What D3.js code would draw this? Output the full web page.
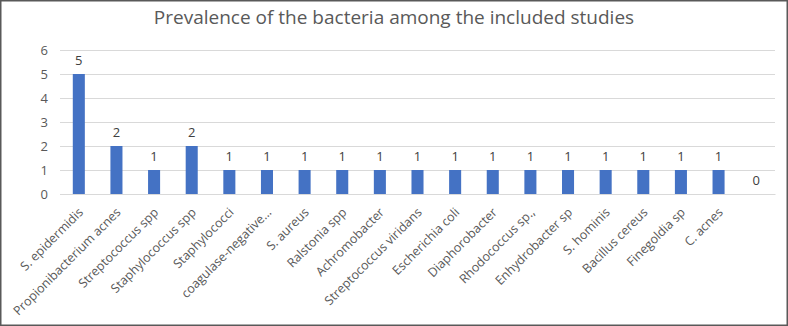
<!DOCTYPE html>
<html><head><meta charset="utf-8">
<script src="https://cdn.jsdelivr.net/npm/d3@7"></script>
<style>body{margin:0;background:#fff}svg{display:block}</style>
</head><body>
<script>
const categories = ["S. epidermidis","Propionibacterium acnes","Streptococcus spp","Staphylococcus spp","Staphylococci","coagulase-negative…","S. aureus","Ralstonia spp","Achromobacter","Streptococcus viridans","Escherichia coli","Diaphorobacter","Rhodococcus sp.,","Enhydrobacter sp","S. hominis","Bacillus cereus","Finegoldia sp","C. acnes",""];
const values = [5,2,1,2,1,1,1,1,1,1,1,1,1,1,1,1,1,1,0];
const yTicks = [0,1,2,3,4,5,6];
const title = "Prevalence of the bacteria among the included studies";

const W = 788, H = 326;
const font = "'Open Sans', sans-serif";
const svg = d3.select("body").append("svg").attr("width", W).attr("height", H);
svg.append("rect").attr("x",0.75).attr("y",0.75).attr("width",W-1.5).attr("height",H-1.5)
  .attr("fill","#fff").attr("stroke","#595959").attr("stroke-width",1.5);

const x = d3.scaleBand().domain(categories.map((c,i)=>i)).range([60,775]).paddingInner(0.68).paddingOuter(0.34);
const y = d3.scaleLinear().domain([0,6]).range([194,50]);

svg.append("text").attr("x",394).attr("y",24).attr("text-anchor","middle")
  .attr("font-family",font).attr("font-size",19).attr("fill","#595959").text(title);

const yAxis = d3.axisLeft(y).tickValues(yTicks).tickSize(-(775-60)).tickPadding(12).tickFormat(d3.format("d"));
const gy = svg.append("g").attr("transform","translate(60,0)").call(yAxis);
gy.select(".domain").remove();
gy.selectAll(".tick line").attr("stroke","#d9d9d9").attr("stroke-width",1);
gy.selectAll(".tick text").attr("font-family",font).attr("font-size",13).attr("fill","#595959");

svg.selectAll("rect.bar").data(values).join("rect").attr("class","bar")
  .attr("x",(d,i)=>x(i)).attr("width",x.bandwidth())
  .attr("y",d=>y(d)).attr("height",d=>y(0)-y(d)).attr("fill","#4472c4");

svg.selectAll("text.val").data(values).join("text").attr("class","val")
  .attr("x",(d,i)=>x(i)+x.bandwidth()/2).attr("y",d=>y(d)-9)
  .attr("text-anchor","middle").attr("font-family",font).attr("font-size",13).attr("fill","#404040")
  .text(d=>d);

const xAxis = d3.axisBottom(x).tickSize(0).tickFormat(i=>categories[i]);
const gx = svg.append("g").attr("transform","translate(0,194)").call(xAxis);
gx.select(".domain").attr("stroke","#d9d9d9");
gx.selectAll(".tick text").attr("font-family",font).attr("font-size",12.5).attr("fill","#595959")
  .attr("text-anchor","end").attr("transform","translate(2,16) rotate(-45)").attr("dy","0.35em").attr("y",0);
</script>
</body></html>
